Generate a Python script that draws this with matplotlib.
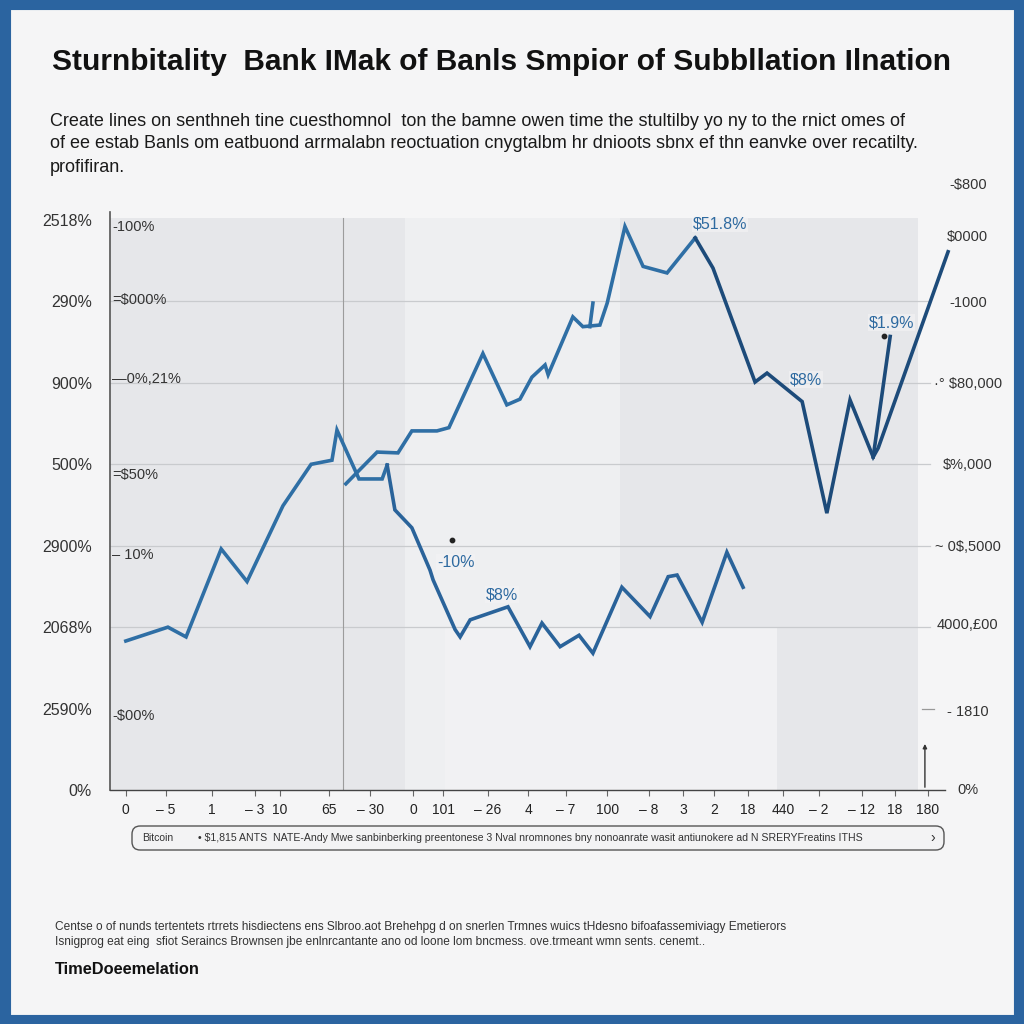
import matplotlib
matplotlib.use('Agg')
import matplotlib.pyplot as plt
from matplotlib.patches import Rectangle, FancyBboxPatch

plt.rcParams['font.family'] = ['Liberation Sans', 'DejaVu Sans']

# ---------------- text ----------------
title = "Sturnbitality  Bank IMak of Banls Smpior of Subbllation Ilnation"
subtitle = ["Create lines on senthneh tine cuesthomnol  ton the bamne owen time the stultilby yo ny to the rnict omes of",
            "of ee estab Banls om eatbuond arrmalabn reoctuation cnygtalbm hr dnioots sbnx ef thn eanvke over recatilty.",
            "profifiran."]
footnote = ["Centse o of nunds tertentets rtrrets hisdiectens ens Slbroo.aot Brehehpg d on snerlen Trmnes wuics tHdesno bifoafassemiviagy Emetierors",
            "Isnigprog eat eing  sfiot Seraincs Brownsen jbe enlnrcantante ano od loone lom bncmess. ove.trmeant wmn sents. cenemt.."]
source = "TimeDoeemelation"
legend_name = "Bitcoin"
legend_text = "\u2022 $1,815 ANTS  NATE-Andy Mwe sanbinberking preentonese 3 Nval nromnones bny nonoanrate wasit antiunokere ad N SRERYFreatins ITHS"

# ---------------- data ----------------
a_x = [-0.03, 1.06, 1.53, 2.44, 3.11, 4.04, 4.77, 5.31, 5.44, 6.01, 6.61, 6.74]
a_y = [1.83, 2.00, 1.88, 2.96, 2.56, 3.49, 4.00, 4.05, 4.42, 3.82, 3.82, 3.99]
a2_x = [6.74, 6.94, 7.38, 7.85, 7.93, 8.50, 8.63, 8.89, 9.87, 10.44, 10.75, 11.22, 11.71,
        12.07, 12.82, 13.55, 14.02, 14.25, 14.90, 15.54, 15.96]
a2_y = [3.99, 3.44, 3.22, 2.70, 2.58, 1.97, 1.88, 2.09, 2.25, 1.76, 2.05, 1.76, 1.90,
        1.68, 2.49, 2.13, 2.62, 2.64, 2.06, 2.92, 2.49]
b_x = [5.67, 6.48, 7.02, 7.38, 8.03, 8.34, 9.22, 9.84, 10.18, 10.49, 10.83, 10.91, 11.55,
       11.81, 12.25, 12.44, 12.90, 13.37, 13.99, 14.72]
b_y = [3.76, 4.15, 4.14, 4.41, 4.41, 4.45, 5.36, 4.73, 4.80, 5.07, 5.22, 5.10, 5.81,
       5.69, 5.71, 5.98, 6.92, 6.43, 6.35, 6.78]
b2_x = [14.72, 15.18, 16.27, 16.58, 17.49, 18.13, 18.73, 19.33, 19.46, 21.27]
b2_y = [6.78, 6.41, 5.01, 5.12, 4.77, 3.40, 4.79, 4.09, 4.20, 6.61]
spike_x = [19.33, 19.77]
spike_y = [4.09, 5.57]
stub_x = [11.99, 12.07]
stub_y = [5.69, 5.98]

left_labels = ["0%", "2590%", "2068%", "2900%", "500%", "900%", "290%", "2518%"]
inner_labels = ["-100%", "=$000%", "\u20140%,21%", "=$50%", "\u2013 10%", "-$00%"]
inner_pos = [6.92, 6.02, 5.05, 3.87, 2.89, 0.91]
right_labels = ["-$800", "$0000", "-1000", "\u00b7\u00b0 $80,000", "$%,000", "~ 0$,5000", "4000,\u00a300", "- 1810", "0%"]
right_pos = [7.43, 6.79, 5.98, 4.98, 3.99, 2.99, 2.03, 0.96, 0.0]
x_ticks = [-0.03, 1.01, 2.20, 3.32, 3.96, 5.23, 6.30, 7.41, 8.19, 9.35, 10.39, 11.37,
           12.44, 13.52, 14.40, 15.21, 16.09, 16.99, 17.93, 19.04, 19.90, 20.75]
x_labels = ["0", "\u2013 5", "1", "\u2013 3", "10", "65", "\u2013 30", "0", "101", "\u2013 26", "4", "\u2013 7",
            "100", "\u2013 8", "3", "2", "18", "440", "\u2013 2", "\u2013 12", "18", "180"]
notes = ["$51.8%", "$1.9%", "$8%", "-10%", "$8%"]
notes_x = [15.36, 19.80, 17.59, 8.52, 9.72]
notes_y = [6.95, 5.74, 5.04, 2.80, 2.40]

# ---------------- figure ----------------
W = 1024
fig = plt.figure(figsize=(10.24, 10.24), dpi=100, facecolor='#f5f5f6')


def fx(px):
    return px / W


def fy(py):
    return 1 - py / W


fig.patches.append(Rectangle((0.0045, 0.004), 0.991, 0.992, transform=fig.transFigure,
                             fill=False, ec='#2b64a0', lw=8))

fig.text(fx(52), fy(62), title, fontsize=21.5, fontweight='bold', color='#111', va='center', ha='left')
for i, (line, yy) in enumerate(zip(subtitle, [121, 143, 167])):
    fig.text(fx(50), fy(yy), line, fontsize=13, color='#1a1a1a', va='center', ha='left')
for line, yy in zip(footnote, [927, 942]):
    fig.text(fx(55), fy(yy), line, fontsize=8.6, color='#333', va='center', ha='left')
fig.text(fx(55), fy(970), source, fontsize=11.8, fontweight='bold', color='#111', va='center', ha='left')

ax = fig.add_axes([fx(110), fy(790), fx(950) - fx(110), fy(185) - fy(790)])
ax.set_xlim(-0.44, 21.32)
ax.set_ylim(0, 7.43)
ax.patch.set_alpha(0)
for s in ax.spines.values():
    s.set_visible(False)

# panels
ax.add_patch(Rectangle((-0.44, 0), 20.93, 7.03, fc='#e6e7ea', ec='none', zorder=0))
ax.add_patch(Rectangle((7.2, 0), 5.57, 7.03, fc='#eeeff1', ec='none', zorder=0.1))
ax.add_patch(Rectangle((8.25, 0), 8.6, 2.0, fc='#f1f1f3', ec='none', zorder=0.1))

# grid
for g in [2, 3, 4, 5, 6]:
    ax.plot([-0.44, 20.8], [g, g], color='#c9cbce', lw=0.9, zorder=0.5, clip_on=False)
ax.plot([20.6, 20.9], [1, 1], color='#999', lw=0.9, clip_on=False)
ax.plot([5.60, 5.60], [0, 7.03], color='#9c9c9c', lw=0.8, zorder=0.6)

# axes lines
ax.plot([-0.44, -0.44], [0, 7.1], color='#555', lw=1.2, clip_on=False, zorder=3)
ax.plot([-0.44, 21.19], [0, 0], color='#444', lw=1.0, clip_on=False, zorder=3)
ax.annotate('', xy=(20.67, 0.6), xytext=(20.67, 0.0),
            arrowprops=dict(arrowstyle='-|>', color='#333', lw=1.0, mutation_scale=6))

# series
lw = 2.6
ax.plot(a_x, a_y, color='#2f6fa5', lw=lw, zorder=4, solid_joinstyle='miter')
ax.plot(a2_x, a2_y, color='#2a639a', lw=lw, zorder=4, solid_joinstyle='miter')
ax.plot(b_x, b_y, color='#2f6fa5', lw=lw, zorder=4, solid_joinstyle='miter')
ax.plot(b2_x, b2_y, color='#1d4b7a', lw=lw, zorder=4, solid_joinstyle='miter', clip_on=False)
ax.plot(spike_x, spike_y, color='#1d4b7a', lw=lw, zorder=4)
ax.plot(stub_x, stub_y, color='#2f6fa5', lw=lw, zorder=4)

# annotations
for t, x, y in zip(notes, notes_x, notes_y):
    ax.text(x, y, t, fontsize=11.5, color='#2e6aa0', ha='center', va='center', zorder=5,
            bbox=dict(fc='#f4f4f5', ec='none', pad=0.5, alpha=0.6))
ax.scatter([8.42, 19.61], [3.07, 5.57], s=10, color='#222', zorder=5)

# ticks
ax.set_yticks(range(8))
ax.set_yticklabels(left_labels)
ax.tick_params(axis='y', length=0, pad=13, labelsize=11.5, labelcolor='#333')
ax.set_xticks(x_ticks)
ax.set_xticklabels(x_labels)
ax.tick_params(axis='x', length=4, pad=5, labelsize=10, labelcolor='#222', color='#666')

for t, y in zip(inner_labels, inner_pos):
    ax.text(-0.38, y, t, fontsize=10.5, color='#333', ha='left', va='center', zorder=5)
for t, y in zip(right_labels, right_pos):
    ax.text(21.78, y, t, fontsize=10.5, color='#333', ha='center', va='center', clip_on=False)

# legend box
fig.patches.append(FancyBboxPatch((fx(132), fy(850)), fx(944) - fx(132), fy(826) - fy(850),
                                  boxstyle='round,pad=0,rounding_size=0.008',
                                  transform=fig.transFigure, fc='#f3f3f4', ec='#555', lw=1.0))
fig.text(fx(142), fy(838), legend_name, fontsize=7.5, color='#333', va='center')
fig.text(fx(198), fy(838), legend_text, fontsize=7.6, color='#333', va='center')
fig.text(fx(930), fy(838), '\u203a', fontsize=10, color='#333', va='center')

fig.savefig('out.png', dpi=100, facecolor=fig.get_facecolor())
